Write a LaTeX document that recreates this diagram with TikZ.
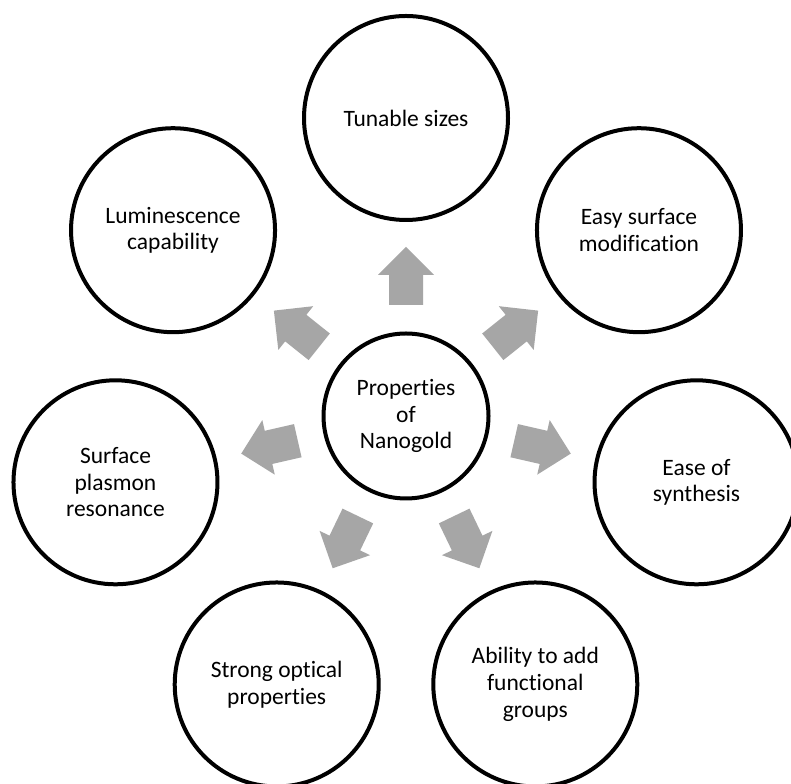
\documentclass[tikz,border=0pt]{standalone}
\usepackage{fontspec}
\setmainfont{Carlito}[Ligatures=NoCommon]
\usetikzlibrary{calc}
\definecolor{arrowgray}{HTML}{A6A6A6}
\tikzset{
  propcircle/.style={circle, draw=black, line width=4pt, minimum size=204pt, inner sep=0pt,
    align=center, font=\fontsize{23.5}{26.7}\selectfont},
  centercircle/.style={propcircle, minimum size=165pt},
  blockarrow/.style={fill=arrowgray, draw=none}
}
\begin{document}
\begin{tikzpicture}[x=1pt,y=1pt]
\useasboundingbox (0,0) rectangle (791,783);
\clip (0,0) rectangle (791,783);
\fill[white] (0,0) rectangle (791,783);
\node[centercircle] (c) at (406,367) {Properties\\of\\Nanogold};
\def\R{298}
\node[propcircle] (n0) at ($(c)+(90:\R)$) {Tunable sizes};
\node[propcircle] (n1) at ($(c)+(38.5714:\R)$) {Easy surface\\modification};
\node[propcircle] (n2) at ($(c)+(-12.8571:\R)$) {Ease of\\synthesis};
\node[propcircle] (n3) at ($(c)+(-64.2857:\R)$) {Ability to add\\functional\\groups};
\node[propcircle] (n4) at ($(c)+(-115.7143:\R)$) {Strong optical\\properties};
\node[propcircle] (n5) at ($(c)+(-167.1429:\R)$) {Surface\\plasmon\\resonance};
\node[propcircle] (n6) at ($(c)+(141.4286:\R)$) {Luminescence\\capability};
\foreach \a in {90,38.5714,-12.8571,-64.2857,-115.7143,-167.1429,141.4286}{
  \begin{scope}[shift={(c.center)}, rotate=\a]
    \fill[blockarrow] (111,-17) -- (141,-17) -- (141,-28) -- (169,0) -- (141,28) -- (141,17) -- (111,17) -- cycle;
  \end{scope}
}
\end{tikzpicture}
\end{document}
